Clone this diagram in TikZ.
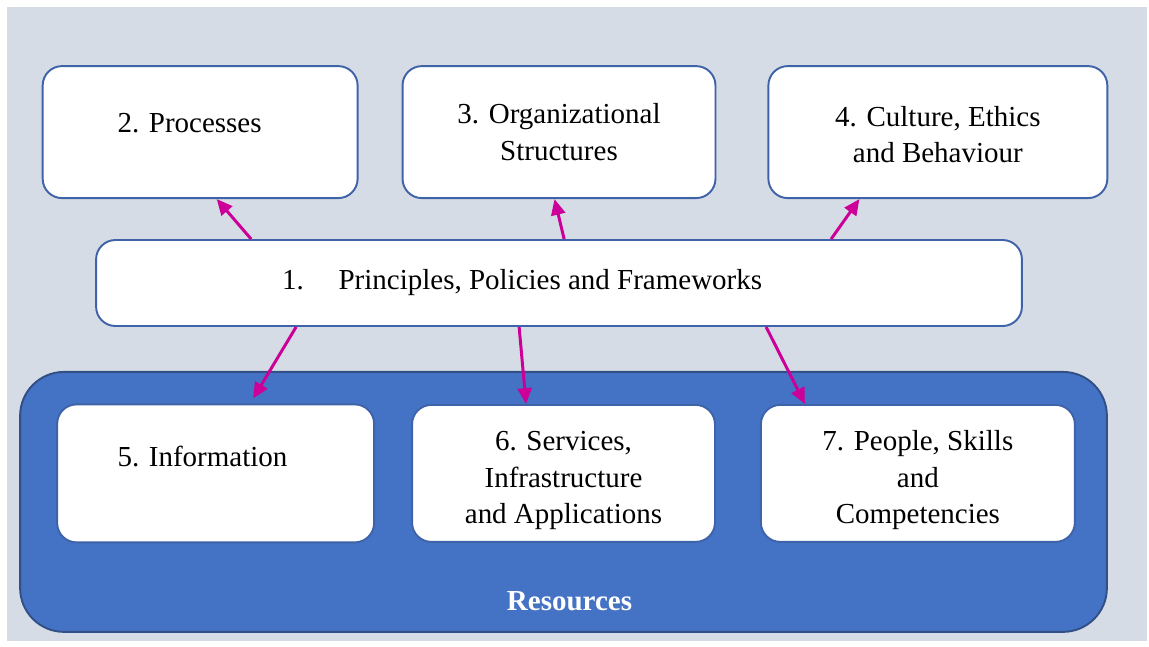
\documentclass[tikz,border=0pt]{standalone}
\usepackage{fontspec}
\setmainfont{Liberation Serif}
\usetikzlibrary{positioning,calc,arrows.meta}
\definecolor{BgBlue}{HTML}{D6DCE5}
\definecolor{ResBlue}{HTML}{4472C4}
\definecolor{LineBlue}{HTML}{3F63A8}
\definecolor{ArrowPink}{HTML}{CC0099}
\tikzstyle{PartBox}=[rectangle, rounded corners=11pt, draw=LineBlue, line width=1.1pt, fill=white, align=center, font=\fontsize{16.5}{20.7}\selectfont]
\tikzstyle{ResBox}=[rectangle, rounded corners=25pt, draw=LineBlue!80!black, line width=1.1pt, fill=ResBlue]
\tikzstyle{Link}=[draw=ArrowPink, line width=1.7pt, -{Triangle[length=9pt,width=8pt]}]

\begin{document}
\begin{tikzpicture}[x=0.02cm, y=-0.02cm]
      % frame
      \useasboundingbox (0,0) rectangle (1149,646);
      \fill[BgBlue] (7,7) rectangle (1147,641);
      % enabler boxes
      \node[PartBox, minimum width=18.52cm, minimum height=1.72cm] (p1) at (559,283) {1.\hspace{1.2em}Principles, Policies and Frameworks\hspace*{42pt}};
      \node[PartBox, minimum width=6.26cm, minimum height=2.64cm] (p3) [above=0.8cm of p1] {3. Organizational\\Structures};
      \node[PartBox, minimum width=6.3cm, minimum height=2.64cm, text depth=10pt] (p2) [left=0.86cm of p3] {2. Processes\hspace*{12pt}};
      \node[PartBox, minimum width=6.78cm, minimum height=2.64cm] (p4) [right=1.02cm of p3] {\rule{0pt}{14pt}4. Culture, Ethics\\and Behaviour};
      \node[ResBox, minimum width=21.74cm, minimum height=5.2cm] (res) [below=0.88cm of p1, xshift=0.09cm] {};
      \node[PartBox, minimum width=6.06cm, minimum height=2.74cm] (p6) [below=0.66cm of res.north] {\rule{0pt}{19pt}6. Services,\\Infrastructure\\and Applications};
      \node[PartBox, minimum width=6.34cm, minimum height=2.76cm, text depth=20pt] (p5) [left=0.72cm of p6] {5. Information\hspace*{15pt}};
      \node[PartBox, minimum width=6.28cm, minimum height=2.74cm] (p7) [right=0.88cm of p6] {\rule{0pt}{19pt}7. People, Skills\\and\\Competencies};
      \node[text=white, font=\fontsize{16.5}{20}\selectfont\bfseries] (reslabel) [above=0.32cm of res.south, xshift=0.12cm] {Resources};
      % arrows
      \draw[Link] ($(p1.north west)+(156,0)$) -- ($(p2.south west)+(175,0)$);
      \draw[Link] ($(p1.north west)+(469,0)$) -- ($(p3.south west)+(153,0)$);
      \draw[Link] ($(p1.north west)+(736,0)$) -- ($(p4.south west)+(92,0)$);
      \draw[Link] ($(p1.south west)+(201,0)$) -- ($(p5.north west)+(197,-5)$);
      \draw[Link] ($(p1.south west)+(424,0)$) -- ($(p6.north west)+(115,0)$);
      \draw[Link] ($(p1.south west)+(671,0)$) -- ($(p7.north west)+(45,0)$);
    \end{tikzpicture}
\end{document}
